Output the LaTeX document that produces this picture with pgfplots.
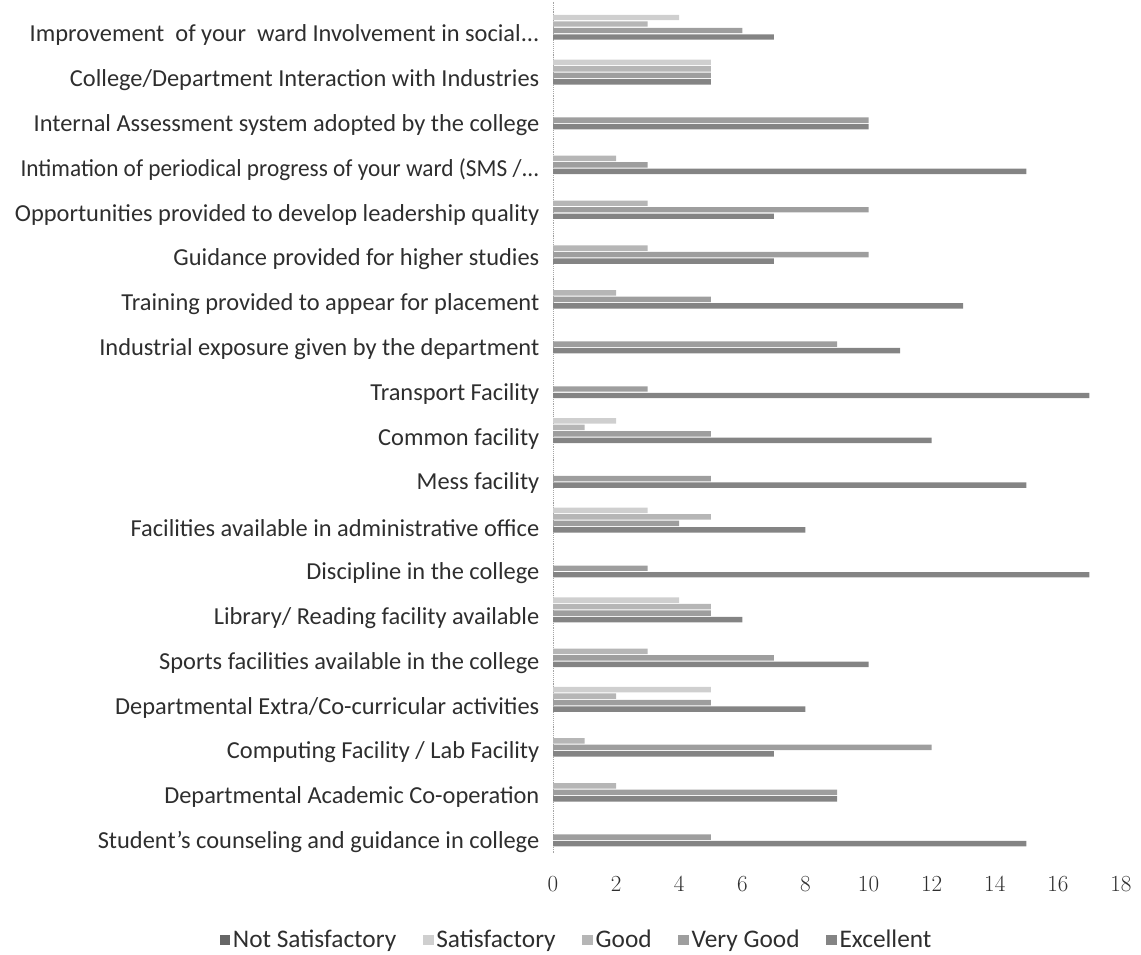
\documentclass[border=0pt]{standalone}
\usepackage{fontspec}
\setmainfont{Carlito}
\usepackage{graphicx}
\usepackage{pgfplots}
\usepackage{pgfplotstable}
\pgfplotsset{compat=1.18}
\newcommand{\tdots}{.{}.{}.}
\definecolor{cNS}{HTML}{666666}
\definecolor{cS}{HTML}{CFCFCF}
\definecolor{cG}{HTML}{B6B6B6}
\definecolor{cVG}{HTML}{9E9E9E}
\definecolor{cE}{HTML}{848484}

% y index: 0 = bottom category (Student's counseling) ... 18 = top category
\pgfplotstableread{
y NS S G VG E
0 0 0 0 5 15
1 0 0 2 9 9
2 0 0 1 12 7
3 0 5 2 5 8
4 0 0 3 7 10
5 0 4 5 5 6
6 0 0 0 3 17
7 0 3 5 4 8
8 0 0 0 5 15
9 0 2 1 5 12
10 0 0 0 3 17
11 0 0 0 9 11
12 0 0 2 5 13
13 0 0 3 10 7
14 0 0 3 10 7
15 0 0 2 3 15
16 0 0 0 10 10
17 0 5 5 5 5
18 0 4 3 6 7
}\datatable

\begin{document}
\begin{tikzpicture}
\useasboundingbox (0,0) rectangle (855.75pt,715.5pt);
\begin{axis}[
  at={(414.75pt,75.75pt)}, anchor=south west,
  scale only axis, width=426pt, height=638.55pt,
  xbar, bar width=4.1pt,
  xmin=0, xmax=18, ymin=-0.5, ymax=18.5,
  xtick={0,2,...,18},
  ytick={0,...,18},
  yticklabels={
    {Student's counseling and guidance in college},
    {Departmental Academic Co-operation},
    {Computing Facility / Lab Facility},
    {Departmental Extra/Co-curricular activities},
    {Sports facilities available in the college},
    {Library/ Reading facility available},
    {Discipline in the college},
    {Facilities available in administrative office},
    {Mess facility},
    {Common facility},
    {Transport Facility},
    {Industrial exposure given by the department},
    {Training provided to appear for placement},
    {Guidance provided for higher studies},
    {Opportunities provided to develop leadership quality},
    {\scalebox{0.955}[1]{Intimation of periodical progress of your ward (SMS /\tdots}},
    {Internal Assessment system adopted by the college},
    {College/Department Interaction with Industries},
    {Improvement\ \ of your\ \ ward Involvement in social\tdots}
  },
  axis lines*=left,
  x axis line style={draw=none},
  y axis line style={draw=black!35, densely dotted},
  major tick length=0pt,
  yticklabel style={font=\fontsize{18.3}{22}\selectfont, text=black!82, xshift=-6.75pt, yshift=-8.5pt},
  xticklabel style={font=\fontsize{17}{20}\selectfont, text=black!82, yshift=-14pt},
  legend columns=-1,
  legend style={at={(0.042,-0.102)}, anchor=center, draw=none, fill=none,
    font=\fontsize{19}{22}\selectfont, text=black!82,
    /tikz/every even column/.append style={column sep=18pt}},
  legend image code/.code={\fill[#1] (0pt,-4pt) rectangle (8pt,4pt);},
]
\addplot[fill=cNS, draw=none, bar shift=9.75pt]  table[x=NS, y=y] {\datatable};
\addplot[fill=cS,  draw=none, bar shift=4.875pt] table[x=S,  y=y] {\datatable};
\addplot[fill=cG,  draw=none, bar shift=0pt]     table[x=G,  y=y] {\datatable};
\addplot[fill=cVG, draw=none, bar shift=-4.875pt] table[x=VG, y=y] {\datatable};
\addplot[fill=cE,  draw=none, bar shift=-9.75pt] table[x=E,  y=y] {\datatable};
\legend{Not Satisfactory, Satisfactory, Good, Very Good, Excellent}
\end{axis}
\end{tikzpicture}
\end{document}
